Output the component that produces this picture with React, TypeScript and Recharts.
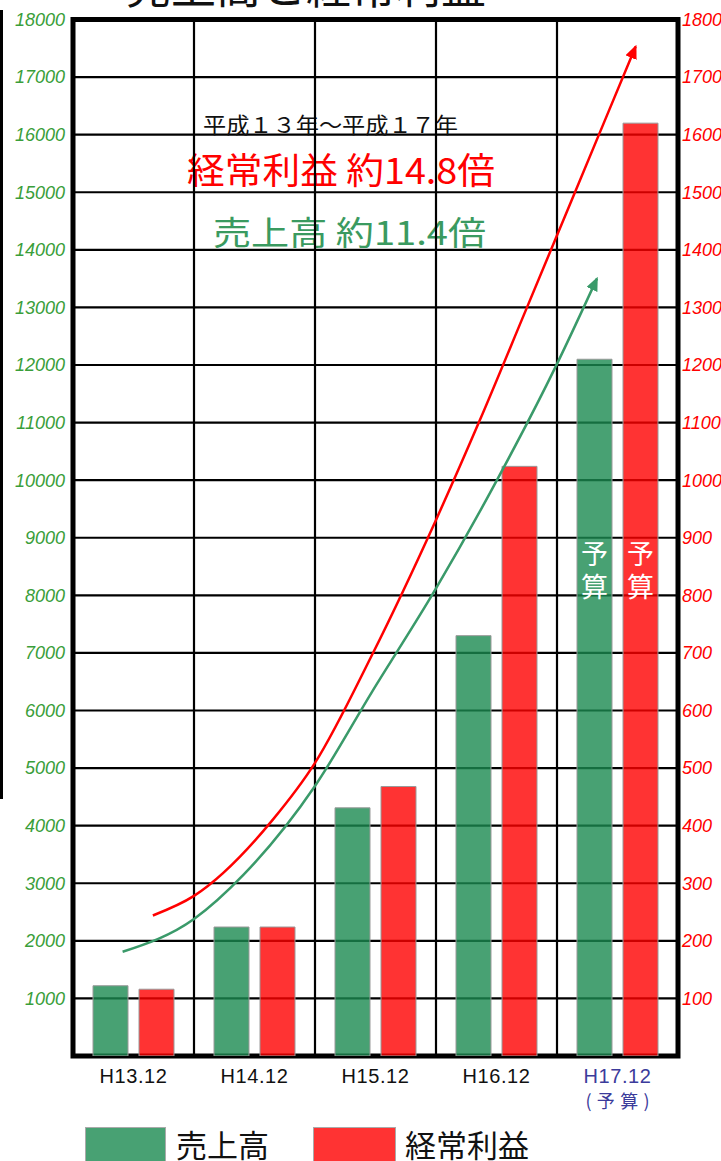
import React from 'react';
import {
  ComposedChart, Bar, Line, XAxis, YAxis, CartesianGrid, ReferenceLine,
  ReferenceArea, Legend, Rectangle,
} from 'recharts';

// ---- data ----
const categories = ['H13.12', 'H14.12', 'H15.12', 'H16.12', 'H17.12'];
const sales = [1220, 2240, 4310, 7300, 12100];      // 売上高 (left axis)
const profit = [116, 224, 468, 1024, 1620];         // 経常利益 (right axis)
const budget = [false, false, false, false, true];  // 予算 flags
const leftTicks = [1000, 2000, 3000, 4000, 5000, 6000, 7000, 8000, 9000, 10000, 11000, 12000, 13000, 14000, 15000, 16000, 17000, 18000];
const rightTicks = [100, 200, 300, 400, 500, 600, 700, 800, 900, 1000, 1100, 1200, 1300, 1400, 1500, 1600, 1700, 1800];
const boundaries = [1, 2, 3, 4];
// trend arrows, in (category position, left-axis value)
const redArrowX = [0.66, 1.0, 1.65, 2.0, 2.47, 3.0, 3.36, 3.74, 4.4, 4.65];
const redArrowY = [2440, 2780, 4100, 5090, 6960, 9310, 11030, 12940, 16270, 17530];
const greenArrowX = [0.41, 1.0, 1.41, 2.0, 2.47, 3.0, 3.47, 4.0, 4.33];
const greenArrowY = [1810, 2380, 3150, 4690, 6320, 8120, 9870, 12020, 13500];

const data = categories.map((name, i) => ({ name, sales: sales[i], profit: profit[i], budget: budget[i] }));
const redArrow = redArrowX.map((x, i) => ({ x, red: redArrowY[i] }));
const greenArrow = greenArrowX.map((x, i) => ({ x, green: greenArrowY[i] }));

const GREEN = '#1a8950';
const RED = '#ff0000';
const CJK = '"Noto Sans CJK JP", "Noto Sans CJK SC", sans-serif';
const LAT = '"Liberation Sans", Arial, sans-serif';

const XTick = (props: any) => {
  const { x, y, payload } = props;
  const idx = categories.indexOf(String(payload.value));
  const isBudget = budget[idx];
  const color = isBudget ? '#3b3b9b' : '#111';
  return (
    <g>
      <text x={x} y={y + 20} textAnchor="middle" dominantBaseline="central" fontSize={20}
        fontFamily={LAT} letterSpacing={0.6} fill={color}>{payload.value}</text>
      {isBudget && (
        <text x={x} y={y + 44} textAnchor="middle" dominantBaseline="central" fontSize={18}
          fontFamily={CJK} fill={color} textLength={64} lengthAdjust="spacing">(予算)</text>
      )}
    </g>
  );
};

const makeShape = (color: string) => (props: any) => {
  const { x, y, width, height, payload } = props;
  if (!width || !height) return <g />;
  const bottom = y + height;
  const cx = x + width / 2;
  return (
    <g>
      <Rectangle x={x} y={y} width={width} height={height} fill={color} fillOpacity={0.8}
        stroke="#9a9a9a" strokeWidth={1} />
      {payload && payload.budget && (
        <text textAnchor="middle" dominantBaseline="central" fontSize={27} fontFamily={CJK} fill="#fff">
          <tspan x={cx} y={bottom - 504}>予</tspan>
          <tspan x={cx} y={bottom - 471}>算</tspan>
        </text>
      )}
    </g>
  );
};

const LegendContent = () => (
  <div style={{ position: 'relative', width: 721, height: 40 }}>
    <div style={{ position: 'absolute', left: 85, top: 0, width: 81, height: 40, background: '#48a173', boxSizing: 'border-box', border: '1px solid #aaa' }} />
    <div style={{ position: 'absolute', left: 176, top: 0, fontSize: 31, lineHeight: '34px', fontFamily: CJK, color: '#111' }}>売上高</div>
    <div style={{ position: 'absolute', left: 313, top: 0, width: 83, height: 40, background: '#ff3333', boxSizing: 'border-box', border: '1px solid #aaa' }} />
    <div style={{ position: 'absolute', left: 405, top: 0, fontSize: 31, lineHeight: '34px', fontFamily: CJK, color: '#111' }}>経常利益</div>
  </div>
);

export default function App() {
  return (
    <div style={{ position: 'absolute', left: 0, top: 0, width: 721, height: 1161, overflow: 'hidden', background: '#fff' }}>
      <ComposedChart width={721} height={1161} data={data}
        margin={{ top: 19.5, right: 0, bottom: 65, left: 0 }} barGap={11}>
        <defs>
          <marker id="arrowRed" viewBox="0 0 14 12" refX="12" refY="6" markerWidth="14" markerHeight="12"
            orient="auto" markerUnits="userSpaceOnUse">
            <path d="M0,0 L14,6 L0,12 z" fill={RED} />
          </marker>
          <marker id="arrowGreen" viewBox="0 0 14 12" refX="12" refY="6" markerWidth="14" markerHeight="12"
            orient="auto" markerUnits="userSpaceOnUse">
            <path d="M0,0 L14,6 L0,12 z" fill="#3a9a6a" />
          </marker>
        </defs>
        <XAxis xAxisId="cat" dataKey="name" type="category" height={40} tickLine={false} axisLine={false}
          tickSize={0} tickMargin={0} interval={0} tick={<XTick />} />
        <XAxis xAxisId="num" dataKey="x" type="number" domain={[0, 5]} allowDataOverflow hide />
        <YAxis yAxisId="left" orientation="left" width={73} domain={[0, 18000]} ticks={leftTicks}
          allowDataOverflow interval={0} tickLine={false} axisLine={false} tickSize={0} tickMargin={8}
          tick={{ fill: '#3a9e3a', fontSize: 18, fontStyle: 'italic', fontFamily: LAT }} />
        <YAxis yAxisId="right" orientation="right" width={43} domain={[0, 1800]} ticks={rightTicks}
          allowDataOverflow interval={0} tickLine={false} axisLine={false} tickSize={0} tickMargin={4}
          tick={{ fill: '#ff0000', fontSize: 18, fontStyle: 'italic', fontFamily: LAT, textAnchor: 'start' }} />
        <CartesianGrid xAxisId="cat" yAxisId="left" vertical={false} stroke="#000" strokeWidth={2.2} />
        {boundaries.map((b) => (
          <ReferenceLine key={b} xAxisId="num" yAxisId="left" x={b} stroke="#000" strokeWidth={2.2} />
        ))}
        <Bar xAxisId="cat" yAxisId="left" dataKey="sales" name="売上高" barSize={35}
          fill="#48a173" shape={makeShape(GREEN)} isAnimationActive={false} />
        <Bar xAxisId="cat" yAxisId="right" dataKey="profit" name="経常利益" barSize={35}
          fill="#ff3333" shape={makeShape(RED)} isAnimationActive={false} />
        <ReferenceArea xAxisId="num" yAxisId="left" x1={0} x2={5} y1={0} y2={18000}
          fill="none" stroke="#000" strokeWidth={5} />
        <Line data={redArrow} xAxisId="num" yAxisId="left" dataKey="red" type="monotone" stroke={RED}
          strokeWidth={2.5} dot={false} activeDot={false} legendType="none" markerEnd="url(#arrowRed)"
          isAnimationActive={false} />
        <Line data={greenArrow} xAxisId="num" yAxisId="left" dataKey="green" type="monotone" stroke="#3a9a6a"
          strokeWidth={2.5} dot={false} activeDot={false} legendType="none" markerEnd="url(#arrowGreen)"
          isAnimationActive={false} />
        <Legend layout="horizontal" verticalAlign="middle" align="center" content={<LegendContent />}
          wrapperStyle={{ top: 1127, left: 0, width: 721, height: 40 }} />
        <line x1={1.5} y1={10} x2={1.5} y2={799} stroke="#000" strokeWidth={3} />
        <text x={306} y={4} textAnchor="middle" fontSize={45} fontFamily={CJK} fill="#111">売上高と経常利益</text>
        <text x={203} y={123} dominantBaseline="central" fontSize={22} fontFamily={CJK} fill="#111"
          textLength={255} lengthAdjust="spacingAndGlyphs">平成１３年～平成１７年</text>
        <text x={187} y={168} dominantBaseline="central" fontSize={36} fontFamily={CJK} fill={RED}
          textLength={308} lengthAdjust="spacingAndGlyphs">経常利益 約14.8倍</text>
        <text x={213} y={231} dominantBaseline="central" fontSize={33} fontFamily={CJK} fill="#3a9a60"
          textLength={273} lengthAdjust="spacingAndGlyphs">売上高 約11.4倍</text>
      </ComposedChart>
    </div>
  );
}
